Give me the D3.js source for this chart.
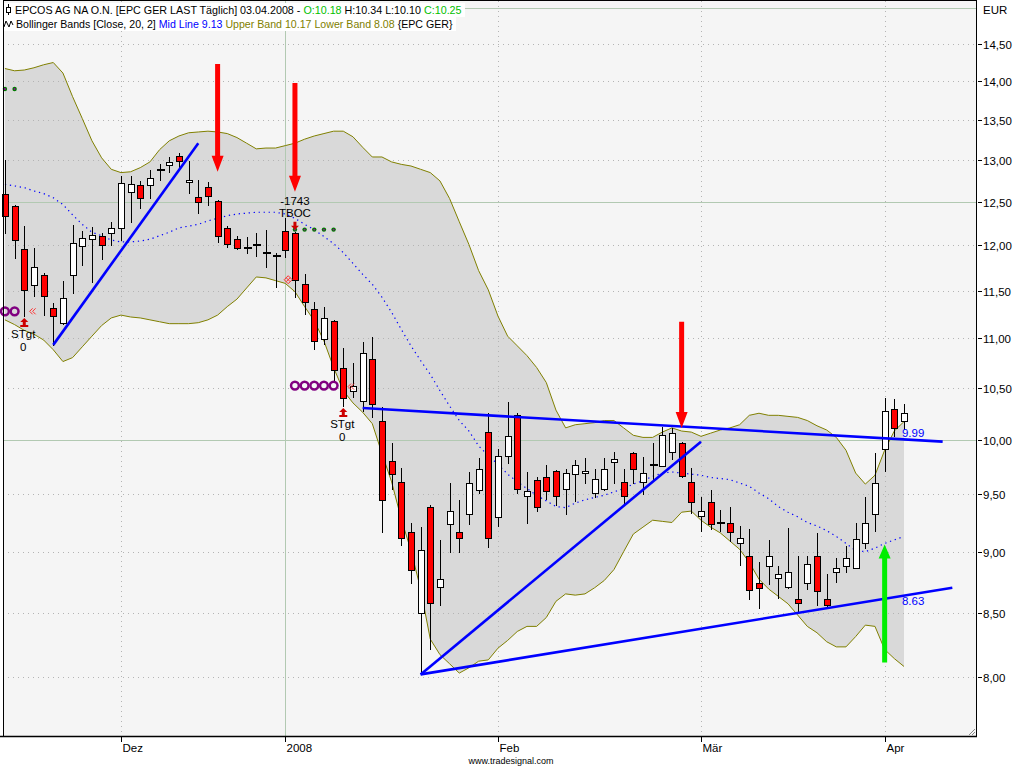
<!DOCTYPE html>
<html><head><meta charset="utf-8">
<script src="https://cdn.jsdelivr.net/npm/d3@7"></script>
<style>body{margin:0;background:#fff}svg{display:block;font-family:"Liberation Sans",Arial,sans-serif}</style>
</head><body><svg id="c" width="1024" height="768"></svg>
<script>
// ---- DATA ----
const opens =[12.60,12.45,11.96,11.56,11.67,11.32,11.16,11.67,11.99,12.07,12.11,12.14,12.20,12.62,12.70,12.70,12.88,12.94,13.05,12.74,12.56,12.68,12.51,12.20,12.07,11.97,12.01,11.91,11.88,12.16,12.14,11.57,11.30,10.99,11.18,10.70,10.47,10.37,10.79,10.18,9.80,9.61,9.17,8.50,9.39,8.71,9.24,9.17,9.32,9.54,10.07,9.30,9.85,10.23,9.48,9.63,9.65,9.71,9.55,9.68,9.69,9.51,9.55,9.79,9.61,9.87,9.61,9.76,9.75,9.88,9.97,9.61,9.31,9.43,9.25,9.25,9.07,8.96,8.74,8.88,8.78,8.71,8.61,8.74,8.96,8.61,8.83,8.88,8.86,9.07,9.32,9.91,10.29,10.18];
const highs =[13.00,12.47,12.22,11.97,11.69,11.37,11.61,12.23,12.16,12.21,12.14,12.27,12.81,12.81,12.75,12.88,12.95,13.04,13.09,12.99,12.76,12.74,12.52,12.22,12.11,12.10,12.14,12.18,11.92,12.31,12.15,11.68,11.38,11.33,11.19,10.90,10.75,10.96,11.01,10.31,9.97,9.74,9.25,9.21,9.40,9.10,9.60,9.45,9.70,9.83,10.25,9.91,10.36,10.25,9.70,9.65,9.76,9.72,9.73,9.81,9.83,9.73,9.83,9.88,9.73,9.88,9.84,9.97,10.12,10.11,9.98,9.74,9.47,9.54,9.36,9.39,9.22,9.19,8.91,9.10,8.88,9.20,8.96,8.96,9.16,8.81,8.95,9.05,9.25,9.47,9.87,10.40,10.39,10.34];
const lows  =[12.14,11.86,11.23,11.44,11.24,10.93,11.15,11.48,11.78,11.60,11.85,12.01,12.06,12.27,12.43,12.55,12.76,12.86,12.91,12.61,12.37,12.47,12.04,11.98,11.96,11.92,11.88,11.76,11.54,11.87,11.43,11.25,10.89,10.94,10.56,10.32,10.41,10.27,10.21,9.17,9.55,9.06,8.74,8.02,8.21,8.56,9.00,9.00,9.24,9.51,9.04,9.22,9.78,9.51,9.25,9.35,9.46,9.40,9.32,9.44,9.60,9.47,9.54,9.60,9.41,9.60,9.50,9.63,9.75,9.82,9.65,9.33,9.18,9.19,9.18,9.09,8.89,8.61,8.54,8.73,8.62,8.70,8.50,8.69,8.56,8.55,8.75,8.83,8.86,9.03,9.18,9.71,10.03,10.10];
const closes=[12.34,12.06,11.51,11.76,11.44,11.23,11.42,12.03,12.09,12.12,12.01,12.20,12.73,12.71,12.55,12.79,12.88,12.98,12.99,12.76,12.50,12.57,12.11,12.02,11.97,11.97,12.01,11.91,11.88,11.95,11.62,11.38,10.97,11.21,10.67,10.40,10.52,10.85,10.34,9.45,9.68,9.12,8.85,9.01,8.58,8.77,9.35,9.12,9.60,9.73,9.12,9.85,10.03,9.55,9.53,9.39,9.53,9.48,9.69,9.76,9.71,9.64,9.73,9.82,9.48,9.73,9.69,9.76,10.04,10.06,9.66,9.43,9.35,9.24,9.25,9.17,9.12,8.68,8.70,8.96,8.81,8.83,8.58,8.90,8.67,8.56,8.86,8.95,9.11,9.25,9.60,10.27,10.11,10.25];
const upperBand=[14.17,14.14,14.15,14.18,14.22,14.25,14.11,13.80,13.52,13.24,13.03,12.89,12.85,12.86,12.91,12.98,13.13,13.24,13.30,13.34,13.35,13.36,13.35,13.33,13.28,13.21,13.14,13.15,13.15,13.18,13.21,13.26,13.30,13.33,13.36,13.36,13.29,13.16,13.04,13.04,12.98,12.95,12.93,12.89,12.85,12.75,12.54,12.27,12.01,11.72,11.51,11.23,11.02,10.92,10.82,10.70,10.55,10.28,10.11,10.14,10.15,10.16,10.18,10.18,10.11,10.04,10.02,10.02,10.07,10.11,10.08,10.07,10.03,10.06,10.09,10.11,10.14,10.23,10.25,10.23,10.23,10.22,10.21,10.18,10.13,10.09,10.02,9.90,9.69,9.59,9.67,9.90,10.08,10.17];
const midLine=[12.71,12.69,12.67,12.63,12.60,12.55,12.47,12.35,12.24,12.15,12.11,12.06,12.04,12.04,12.05,12.07,12.11,12.15,12.20,12.22,12.24,12.28,12.31,12.34,12.36,12.37,12.38,12.38,12.38,12.36,12.31,12.24,12.18,12.10,12.02,11.92,11.80,11.68,11.57,11.43,11.27,11.09,10.92,10.77,10.63,10.47,10.32,10.18,10.08,9.94,9.85,9.77,9.68,9.61,9.55,9.49,9.44,9.39,9.38,9.42,9.45,9.47,9.49,9.52,9.55,9.59,9.62,9.66,9.69,9.70,9.69,9.68,9.67,9.65,9.64,9.63,9.60,9.57,9.51,9.46,9.39,9.34,9.30,9.25,9.22,9.18,9.13,9.07,9.01,9.00,9.03,9.07,9.10,9.13];
const lowerBand=[11.19,11.14,11.08,11.04,10.98,10.88,10.76,10.80,10.91,11.02,11.13,11.21,11.24,11.22,11.21,11.19,11.17,11.15,11.15,11.15,11.16,11.19,11.24,11.33,11.41,11.53,11.65,11.64,11.61,11.58,11.49,11.33,11.18,10.97,10.70,10.47,10.35,10.26,10.15,9.87,9.61,9.28,9.01,8.69,8.29,8.17,8.10,8.03,8.07,8.12,8.13,8.22,8.28,8.35,8.39,8.39,8.46,8.59,8.65,8.64,8.65,8.70,8.76,8.85,9.00,9.15,9.21,9.27,9.26,9.25,9.34,9.35,9.27,9.21,9.16,9.09,9.02,8.91,8.77,8.69,8.63,8.57,8.48,8.39,8.34,8.27,8.23,8.23,8.31,8.40,8.39,8.21,8.14,8.08];
const monthTickIdx=[12,29,51,72,91];
const monthTickLabels=["Dez","2008","Feb","Mär","Apr"];
const yTickValues=[8,8.5,9,9.5,10,10.5,11,11.5,12,12.5,13,13.5,14,14.5];
const gridValues=[8,8.5,9,9.5,10,10.5,11,11.5,12,12.5,13,13.5,14,14.5,15];
const majorGridValues=[10,12.5,15];
const trendStartIdx=[5,37,43,43], trendStartVal=[10.93,10.30,8.02,8.02];
const trendEndIdx=[20,97,98,72], trendEndVal=[13.21,9.98,8.70,9.98];
const trendLabels=["9.99","8.63"], trendLabelIdx=[93.0,93.0], trendLabelLine=[1,2];
const redArrowIdx=[22,30,70], redArrowTop=[14.23,13.98,11.17], redArrowTip=[12.86,12.62,10.11];
const greenArrowIdx=91, greenArrowBase=8.11, greenArrowTip=9.06;
const purpleCircleIdx=[0,1,30,31,32,33,34], purpleCircleVal=[11.28,11.28,10.52,10.52,10.52,10.52,10.52];
const greenDotIdx=[0,1,30,31,32,33,34], greenDotVal=[13.90,13.90,12.18,12.18,12.18,12.18,12.18];
const stgtIdx=[2,35], stgtVal=[11.21,10.30];
const chevronIdx=[2.76,35.7], chevronVal=[11.28,10.51];
const hatchIdx=29.3, hatchVal=11.62;
const tbocIdx=30, tbocVal=12.47, tbocTexts=["-1743","TBOC"], tbocArrowVal=12.27;

// ---- CHART ----
const svg=d3.select("#c");
const X0=3,X1=976,Y0=1,Y1=736;
const x=d3.scaleLinear().domain([-0.2,100.45]).range([X0,X1]);
const y=d3.scaleLog().domain([7.569,15.098]).range([Y1,Y0]);
const idx=d3.range(opens.length);

svg.append("rect").attr("x",X0).attr("y",Y0).attr("width",X1-X0).attr("height",Y1-Y0).attr("fill","#f5f5f5");

// band fill
svg.append("path").datum(idx)
  .attr("d",d3.area().x(i=>x(i)).y0(i=>y(lowerBand[i])).y1(i=>y(upperBand[i])))
  .attr("fill","#d9d9d9");

// grid
const grid=svg.append("g");
gridValues.forEach(v=>{
  const major=majorGridValues.includes(v);
  const yy=Math.round(y(v))+0.5;
  grid.append("line").attr("x1",X0).attr("x2",X1).attr("y1",yy).attr("y2",yy)
    .attr("stroke",major?"#b2c9b2":"#b4b4b4").attr("stroke-dasharray",major?null:"1,4");
});
monthTickIdx.forEach((t,k)=>{
  const major=monthTickLabels[k]==="2008";
  const xx=Math.round(x(t))+0.5;
  grid.append("line").attr("x1",xx).attr("x2",xx).attr("y1",Y0).attr("y2",Y1)
    .attr("stroke",major?"#b2c9b2":"#b4b4b4").attr("stroke-dasharray",major?null:"1,4");
});

// band lines
const lineGen=arr=>d3.line().x(i=>x(i)).y(i=>y(arr[i]));
svg.append("path").datum(idx).attr("d",lineGen(upperBand)).attr("fill","none").attr("stroke","#808000").attr("stroke-width",1);
svg.append("path").datum(idx).attr("d",lineGen(lowerBand)).attr("fill","none").attr("stroke","#808000").attr("stroke-width",1);
svg.append("path").datum(idx).attr("d",lineGen(midLine)).attr("fill","none").attr("stroke","#0000ff").attr("stroke-width",1.2).attr("stroke-dasharray","1.3,3.7");

// candles
const cg=svg.append("g");
idx.forEach(i=>{
  const cx=Math.round(x(i));
  cg.append("line").attr("x1",cx+0.5).attr("x2",cx+0.5).attr("y1",Math.round(y(highs[i]))).attr("y2",Math.round(y(lows[i]))+1).attr("stroke","#000");
  const o=opens[i],c=closes[i];
  if(o===c){
    const yy=Math.round(y(o));
    cg.append("rect").attr("x",cx-3).attr("y",yy-1).attr("width",8).attr("height",2).attr("fill","#000");
  } else {
    const yt=Math.round(y(Math.max(o,c))), yb=Math.round(y(Math.min(o,c)));
    cg.append("rect").attr("x",cx-2.5).attr("y",yt+0.5).attr("width",6).attr("height",Math.max(2,yb-yt))
      .attr("fill",c<o?"#ff0000":"#ffffff").attr("stroke","#000").attr("stroke-width",1);
  }
});

// trendlines
trendStartIdx.forEach((s,k)=>{
  svg.append("line").attr("x1",x(s)).attr("y1",y(trendStartVal[k])).attr("x2",x(trendEndIdx[k])).attr("y2",y(trendEndVal[k]))
    .attr("stroke","#0000ff").attr("stroke-width",2.6);
});
trendLabels.forEach((t,k)=>{
  const L=trendLabelLine[k], i=trendLabelIdx[k];
  const f=(i-trendStartIdx[L])/(trendEndIdx[L]-trendStartIdx[L]);
  const yy=y(trendStartVal[L])+f*(y(trendEndVal[L])-y(trendStartVal[L]));
  svg.append("text").attr("x",x(i)-2).attr("y",k===0?yy-2:yy+9).attr("font-size",11.5).attr("fill","#0000ff").text(t);
});

// arrows
function vArrow(xc,yFrom,yTip,color,shaftW,headW,headH){
  const dir=yTip>yFrom?1:-1;
  const yb=yTip-dir*headH;
  const p=[[xc-shaftW/2,yFrom],[xc+shaftW/2,yFrom],[xc+shaftW/2,yb],[xc+headW/2,yb],[xc,yTip],[xc-headW/2,yb],[xc-shaftW/2,yb]];
  svg.append("path").attr("d","M"+p.map(q=>q.join(",")).join("L")+"Z").attr("fill",color);
}
redArrowIdx.forEach((i,k)=>vArrow(x(i),y(redArrowTop[k]),y(redArrowTip[k]),"#ff0000",5,12,16));
vArrow(x(greenArrowIdx),y(greenArrowBase),y(greenArrowTip),"#00ee00",5,12,14);

// purple circles
purpleCircleIdx.forEach((i,k)=>svg.append("circle").attr("cx",x(i)).attr("cy",y(purpleCircleVal[k])).attr("r",3.9)
  .attr("fill","none").attr("stroke","#800080").attr("stroke-width",2.5));
// green dots
greenDotIdx.forEach((i,k)=>{
  svg.append("circle").attr("cx",x(i)).attr("cy",y(greenDotVal[k])).attr("r",2.2).attr("fill","#007a00");
  svg.append("circle").attr("cx",x(i)).attr("cy",y(greenDotVal[k])).attr("r",0.9).attr("fill","#a000a0");
});
// STgt markers
stgtIdx.forEach((i,k)=>{
  const cx=x(i), ty=y(stgtVal[k]);
  svg.append("path").attr("d",`M${cx},${ty} L${cx+4},${ty+4} L${cx+1.5},${ty+4} L${cx+1.5},${ty+7} L${cx+4},${ty+7} L${cx+4},${ty+9} L${cx-4},${ty+9} L${cx-4},${ty+7} L${cx-1.5},${ty+7} L${cx-1.5},${ty+4} L${cx-4},${ty+4}Z`).attr("fill","#cc0000");
  svg.append("text").attr("x",cx-1).attr("y",ty+20).attr("text-anchor","middle").attr("font-size",11.5).attr("fill","#000").text("STgt");
  svg.append("text").attr("x",cx-1).attr("y",ty+33).attr("text-anchor","middle").attr("font-size",11.5).attr("fill","#000").text("0");
});
// chevrons
chevronIdx.forEach((i,k)=>{
  const cx=x(i), cy=y(chevronVal[k]);
  svg.append("path").attr("d",`M${cx+1},${cy-3} L${cx-2},${cy} L${cx+1},${cy+3} M${cx+4},${cy-3} L${cx+1},${cy} L${cx+4},${cy+3}`)
    .attr("fill","none").attr("stroke","#ff3030").attr("stroke-width",1);
});
{
  const cx=x(hatchIdx), cy=y(hatchVal);
  svg.append("path").attr("d",`M${cx},${cy-4} L${cx+4},${cy} L${cx},${cy+4} L${cx-4},${cy}Z M${cx-2},${cy-2} L${cx+2},${cy+2} M${cx+2},${cy-2} L${cx-2},${cy+2}`)
    .attr("fill","none").attr("stroke","#ff3030").attr("stroke-width",1);
}
// TBOC
{
  const cx=x(tbocIdx), ty=y(tbocVal);
  tbocTexts.forEach((t,k)=>svg.append("text").attr("x",cx).attr("y",ty+k*12).attr("text-anchor","middle").attr("font-size",11.5).attr("fill","#000").text(t));
  const ay=y(tbocArrowVal);
  svg.append("path").attr("d",`M${cx-1.5},${ay} L${cx+1.5},${ay} L${cx+1.5},${ay+4} L${cx+4},${ay+4} L${cx},${ay+8} L${cx-4},${ay+4} L${cx-1.5},${ay+4}Z`).attr("fill","#cc0000");
}

// frame
svg.append("line").attr("x1",X0+0.5).attr("x2",X0+0.5).attr("y1",0).attr("y2",Y1).attr("stroke","#000");
svg.append("line").attr("x1",X0).attr("x2",X1).attr("y1",0.5).attr("y2",0.5).attr("stroke","#000");
svg.append("line").attr("x1",X1+0.5).attr("x2",X1+0.5).attr("y1",0).attr("y2",Y1+1).attr("stroke","#000");
svg.append("line").attr("x1",0).attr("x2",X1+1).attr("y1",Y1+0.5).attr("y2",Y1+0.5).attr("stroke","#000").attr("stroke-width",1.5);
// resize grip
svg.append("path").attr("d",`M${X1-7},${Y1-1} L${X1-1},${Y1-7} M${X1-4},${Y1-1} L${X1-1},${Y1-4}`).attr("stroke","#888").attr("fill","none");

// y axis
const fmt=d3.format(".2f");
yTickValues.forEach(v=>{
  const yy=Math.round(y(v))+0.5;
  svg.append("line").attr("x1",X1+2).attr("x2",X1+6).attr("y1",yy).attr("y2",yy).attr("stroke","#000");
  svg.append("text").attr("x",X1+7).attr("y",yy+4).attr("font-size",11.5).attr("fill","#000").text(fmt(v).replace(".",","));
});
svg.append("text").attr("x",X1+7).attr("y",14).attr("font-size",11.5).attr("fill","#000").text("EUR");

// x axis
monthTickIdx.forEach((t,k)=>{
  const xx=Math.round(x(t))+0.5;
  svg.append("line").attr("x1",xx).attr("x2",xx).attr("y1",Y1+1).attr("y2",Y1+6).attr("stroke","#000");
  svg.append("text").attr("x",xx+1).attr("y",Y1+16).attr("font-size",11.5).attr("fill","#000").text(monthTickLabels[k]);
});
svg.append("text").attr("x",511).attr("y",764).attr("text-anchor","middle").attr("font-size",9).attr("fill","#000").text("www.tradesignal.com");

// header
function header(yb,startX,parts,targetW){
  const bg=svg.append("rect").attr("fill","#ffffff");
  const t=svg.append("text").attr("x",startX).attr("y",yb).attr("font-size",11).attr("fill","#000");
  parts.forEach(p=>t.append("tspan").attr("fill",p[1]).text(p[0]));
  const w=t.node().getComputedTextLength();
  t.attr("font-size",11*targetW/w);
  bg.attr("x",X0+1).attr("y",yb-11).attr("width",startX+targetW+2-X0).attr("height",14);
}
header(14,15,[["EPCOS AG NA O.N. [EPC GER LAST Täglich] 03.04.2008 - ","#000"],["O:10.18 ","#00c000"],["H:10.34 L:10.10 ","#000"],["C:10.25","#00c000"]],447);
header(28,16,[["Bollinger Bands [Close, 20, 2] ","#000"],["Mid Line 9.13 ","#0000ff"],["Upper Band 10.17 Lower Band 8.08 ","#808000"],["{EPC GER}","#000"]],437);
// header icons
svg.append("line").attr("x1",8.5).attr("x2",8.5).attr("y1",4).attr("y2",15).attr("stroke","#000");
svg.append("rect").attr("x",6.5).attr("y",7.5).attr("width",4).attr("height",5).attr("fill","#fff").attr("stroke","#000");
svg.append("path").attr("d","M4,27 L6,21 L9,27 L11,21 L13,25").attr("fill","none").attr("stroke","#000");
</script></body></html>
